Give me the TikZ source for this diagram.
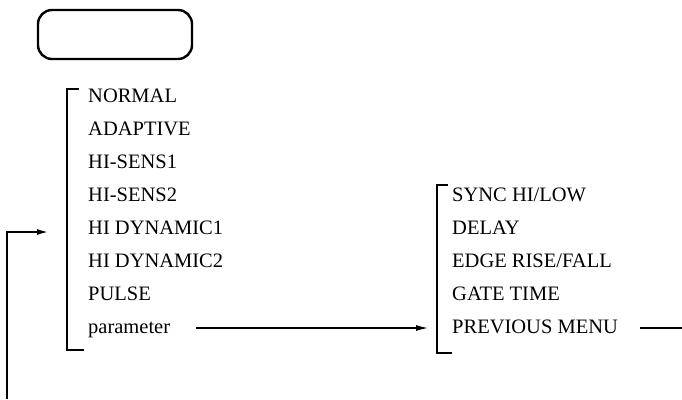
\documentclass[tikz,border=0pt]{standalone}
\usepackage{fontspec}
\setmainfont{Liberation Serif}
\usetikzlibrary{arrows.meta}

\begin{document}
\begin{tikzpicture}[x=1pt, y=-1pt,
    item/.style={anchor=west, inner sep=0pt, text height=14pt, text depth=4pt,
                 font=\fontsize{20.5}{24}\selectfont},
    bracket/.style={line width=1.1pt},
    link/.style={line width=1.1pt, -{Latex[length=12pt,width=6pt]}}]
    \useasboundingbox (0,0) rectangle (682,399);

    % Display window
    \draw[line width=2.4pt, rounded corners=14pt] (38,10) rectangle (192,59);

    % Main menu
    \foreach \name [count=\i from 0] in {NORMAL, ADAPTIVE, HI-SENS1, HI-SENS2,
        HI DYNAMIC1, HI DYNAMIC2, PULSE, parameter} {
        \node[item] (mode\i) at (88, 97+33*\i) {\name};
    }
    \draw[bracket] (79,89) -| (67,350) -- (84,350);

    % Parameter menu
    \foreach \name [count=\i from 0] in {SYNC HI/LOW, DELAY, EDGE RISE/FALL,
        GATE TIME, PREVIOUS MENU} {
        \node[item] (sub\i) at (452, 196+33*\i) {\name};
    }
    \draw[bracket] (448,185) -| (437,353) -- (452,353);

    % Links
    \draw[link] ([xshift=26pt]mode7.east) -- ([xshift=-24pt]sub4.west);
    \coordinate (edge) at (682,0);
    \draw[line width=1.1pt] ([xshift=22pt]sub4.east) -- (sub4.east -| edge);
    \coordinate (retbot) at (7,399);
    \coordinate (rettip) at (49,232);
    \draw[link, line width=2pt] (retbot) |- (rettip);
\end{tikzpicture}
\end{document}
